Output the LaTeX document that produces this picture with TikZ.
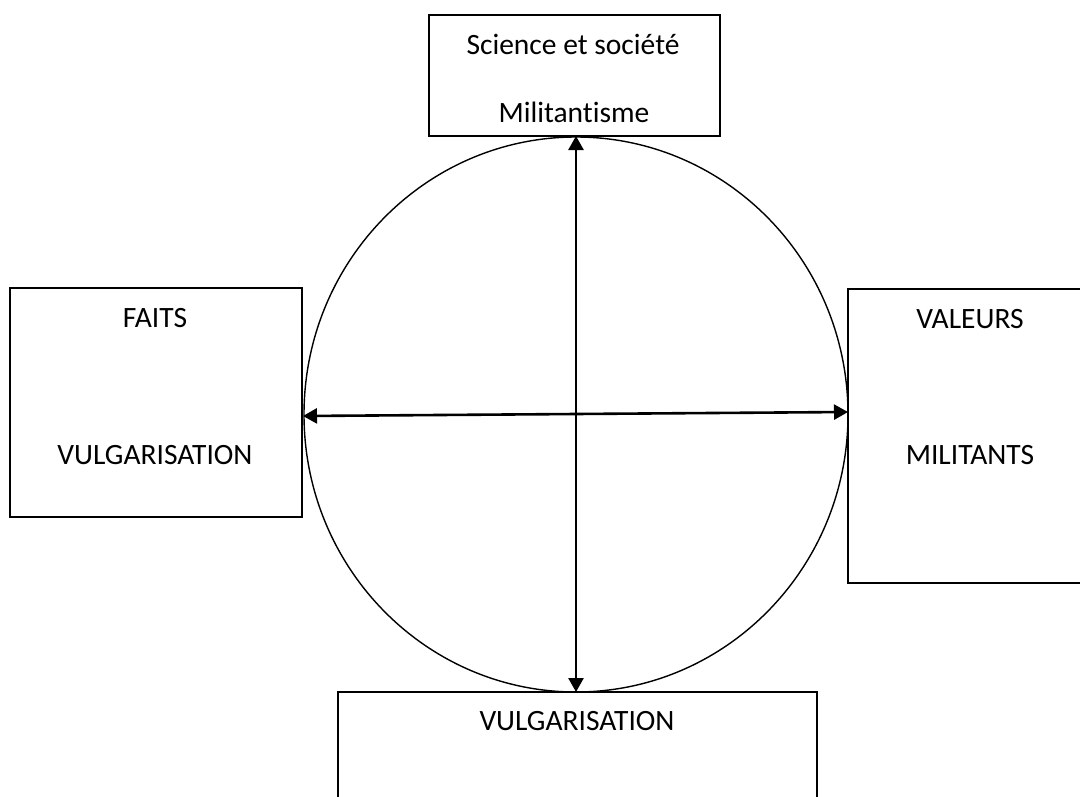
\documentclass[tikz,border=0pt]{standalone}
\usepackage{fontspec}
\setmainfont[Ligatures=NoCommon]{Carlito}
\usetikzlibrary{arrows.meta,shapes.geometric}
\tikzset{
  boite/.style={draw, line width=1.6pt, rectangle, inner sep=0pt},
  texte/.style={anchor=base, inner sep=0pt, font=\fontsize{29.5}{34}\selectfont},
  fleche/.style={line width=2.6pt, {Triangle[length=14pt,width=15pt]}-{Triangle[length=14pt,width=15pt]}}
}
\begin{document}
\begin{tikzpicture}[x=1pt,y=-1pt]
    \useasboundingbox (0,0) rectangle (1080,796);

    % boxes
    \node[boite, minimum width=291pt, minimum height=121pt] (haut) at (574.5,75.5) {};
    \node[boite, minimum width=292pt, minimum height=229pt] (gauche) at (156,402.5) {};
    \node[boite, minimum width=244pt, minimum height=294pt] (droite) at (970,436) {};
    \node[boite, minimum width=479pt, minimum height=130pt] (bas) at (577.5,757) {};

    % circle
    \node[draw, line width=1.4pt, ellipse, minimum width=544pt, minimum height=555pt, inner sep=0pt] (cercle) at (576,414.5) {};

    % texts
    \node[texte] (haut1) at (573,54) {Science et société};
    \node[texte] (haut2) at (574,122) {Militantisme};
    \node[texte] (gauche1) at (155,327.5) {FAITS};
    \node[texte] (gauche2) at (155,464) {VULGARISATION};
    \node[texte] (droite1) at (970,328) {VALEURS};
    \node[texte] (droite2) at (970,464) {MILITANTS};
    \node[texte] (bas1) at (577,730) {VULGARISATION};

    % axes
    \coordinate (h) at (576,136);
    \coordinate (b) at (576,692);
    \coordinate (g) at (303,416);
    \coordinate (d) at (848,412);
    \draw[fleche] (h) -- (b);
    \draw[fleche] (g) -- (d);
\end{tikzpicture}
\end{document}
